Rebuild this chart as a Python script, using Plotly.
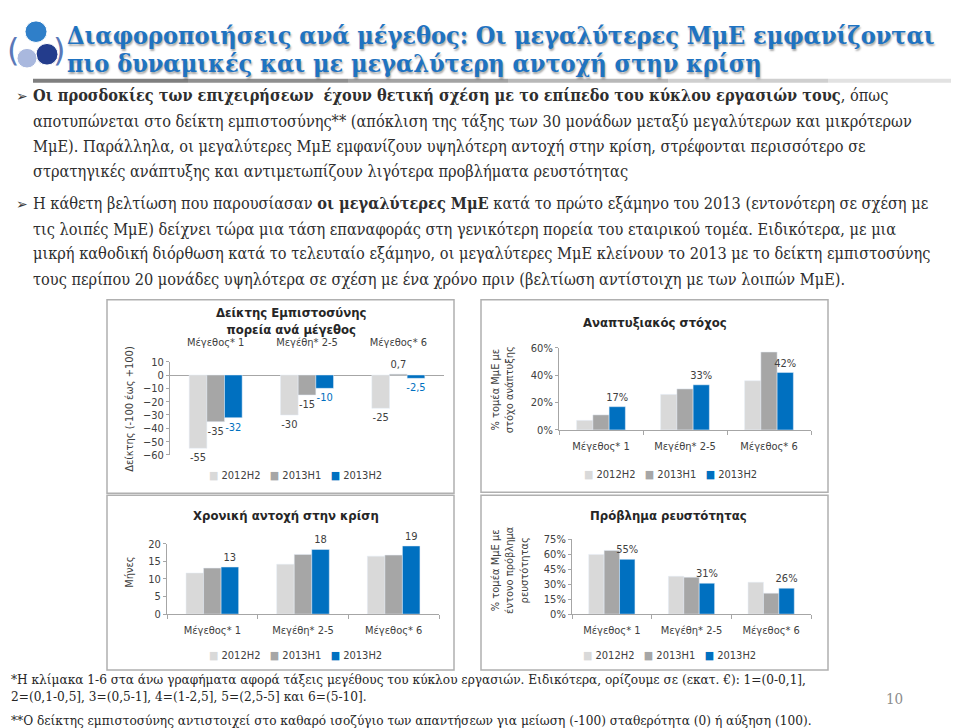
import plotly.graph_objects as go

W, H = 959, 728


def px(x):
    return x / W


def py(y):
    return 1 - y / H


# ---------------- data ----------------
categories = ["Μέγεθος* 1", "Μεγέθη* 2-5", "Μέγεθος* 6"]
series_names = ["2012H2", "2013H1", "2013H2"]
series_colors = ["#D9D9D9", "#A6A6A6", "#0070C0"]

conf_2012H2 = [-55, -30, -25]
conf_2013H1 = [-35, -15, 0.7]
conf_2013H2 = [-32, -10, -2.5]

growth_2012H2 = [7, 26, 36]
growth_2013H1 = [11, 30, 57]
growth_2013H2 = [17, 33, 42]

resil_2012H2 = [11.7, 14.2, 16.5]
resil_2013H1 = [13.1, 17.0, 16.8]
resil_2013H2 = [13.4, 18.4, 19.4]

liq_2012H2 = [60, 38, 32]
liq_2013H1 = [64, 37, 21]
liq_2013H2 = [55, 31, 26]

title_lines = [
    "Διαφοροποιήσεις ανά μέγεθος: Οι μεγαλύτερες ΜμΕ εμφανίζονται",
    "πιο δυναμικές και με μεγαλύτερη αντοχή στην κρίση",
]

body_lines = [
    "<b>Οι προσδοκίες των επιχειρήσεων  έχουν θετική σχέση με το επίπεδο του κύκλου εργασιών τους</b>, όπως",
    "αποτυπώνεται στο δείκτη εμπιστοσύνης** (απόκλιση της τάξης των 30 μονάδων μεταξύ μεγαλύτερων και μικρότερων",
    "ΜμΕ). Παράλληλα, οι μεγαλύτερες ΜμΕ εμφανίζουν υψηλότερη αντοχή στην κρίση, στρέφονται περισσότερο σε",
    "στρατηγικές ανάπτυξης και αντιμετωπίζουν λιγότερα προβλήματα ρευστότητας",
    "Η κάθετη βελτίωση που παρουσίασαν <b>οι μεγαλύτερες ΜμΕ</b> κατά το πρώτο εξάμηνο του 2013 (εντονότερη σε σχέση με",
    "τις λοιπές ΜμΕ) δείχνει τώρα μια τάση επαναφοράς στη γενικότερη πορεία του εταιρικού τομέα. Ειδικότερα, με μια",
    "μικρή καθοδική διόρθωση κατά το τελευταίο εξάμηνο, οι μεγαλύτερες ΜμΕ κλείνουν το 2013 με το δείκτη εμπιστοσύνης",
    "τους περίπου 20 μονάδες υψηλότερα σε σχέση με ένα χρόνο πριν (βελτίωση αντίστοιχη με των λοιπών ΜμΕ).",
]
body_y = [83, 109, 135, 160, 193, 219, 244, 270]
bullet_y = [83, 193]

footnotes = [
    "*Η κλίμακα 1-6 στα άνω γραφήματα αφορά τάξεις μεγέθους του κύκλου εργασιών. Ειδικότερα, ορίζουμε σε (εκατ. €): 1=(0-0,1],",
    "2=(0,1-0,5], 3=(0,5-1], 4=(1-2,5], 5=(2,5-5] και 6=(5-10].",
    "**Ο δείκτης εμπιστοσύνης αντιστοιχεί στο καθαρό ισοζύγιο των απαντήσεων για μείωση (-100) σταθερότητα (0) ή αύξηση (100).",
]
foot_y = [677, 694, 719]
page_number = "10"

chart_titles = [
    "Δείκτης Εμπιστοσύνης<br>πορεία ανά μέγεθος",
    "Αναπτυξιακός στόχος",
    "Χρονική αντοχή στην κρίση",
    "Πρόβλημα ρευστότητας",
]
y_titles = [
    "Δείκτης (-100 έως +100)",
    "% τομέα ΜμΕ με<br>στόχο ανάπτυξης",
    "Μήνες",
    "% τομέα ΜμΕ με<br>έντονο πρόβλημα<br>ρευστότητας",
]

# ---------------- styling ----------------
CF = "DejaVu Sans Condensed"
SERIF = "DejaVu Serif Condensed"
TXT = "#404040"
AX = "#A6A6A6"

fig = go.Figure()


def fmt_comma(v):
    return ("%g" % v).replace(".", ",")


# chart 1: confidence index
conf = [conf_2012H2, conf_2013H1, conf_2013H2]
for i, vals in enumerate(conf):
    fig.add_trace(go.Bar(
        x=categories, y=vals, name=series_names[i], marker_color=series_colors[i],
        text=[fmt_comma(v) for v in vals], textposition="outside", constraintext="none",
        textfont=dict(family=CF, size=11, color=TXT if i < 2 else "#0070C0"),
        cliponaxis=False, xaxis="x", yaxis="y", showlegend=False))

# chart 2: growth target
growth = [growth_2012H2, growth_2013H1, growth_2013H2]
for i, vals in enumerate(growth):
    fig.add_trace(go.Bar(
        x=categories, y=vals, name=series_names[i], marker_color=series_colors[i],
        texttemplate="%{y:.0f}%" if i == 2 else None, textposition="outside" if i == 2 else "none",
        constraintext="none", textfont=dict(family=CF, size=11, color=TXT),
        cliponaxis=False, xaxis="x2", yaxis="y2", showlegend=False))

# chart 3: resilience (months)
resil = [resil_2012H2, resil_2013H1, resil_2013H2]
for i, vals in enumerate(resil):
    fig.add_trace(go.Bar(
        x=categories, y=vals, name=series_names[i], marker_color=series_colors[i],
        texttemplate="%{y:.0f}" if i == 2 else None, textposition="outside" if i == 2 else "none",
        constraintext="none", textfont=dict(family=CF, size=11, color=TXT),
        cliponaxis=False, xaxis="x3", yaxis="y3", showlegend=False))

# chart 4: liquidity problem
liq = [liq_2012H2, liq_2013H1, liq_2013H2]
for i, vals in enumerate(liq):
    fig.add_trace(go.Bar(
        x=categories, y=vals, name=series_names[i], marker_color=series_colors[i],
        texttemplate="%{y:.0f}%" if i == 2 else None, textposition="outside" if i == 2 else "none",
        constraintext="none", textfont=dict(family=CF, size=11, color=TXT),
        cliponaxis=False, xaxis="x4", yaxis="y4", showlegend=False))

tickfont = dict(family=CF, size=11, color=TXT)


def yax(dom, anchor, rng, dtick, suffix="", zeroline=False):
    return dict(domain=dom, anchor=anchor, range=rng, dtick=dtick, ticksuffix=suffix, showgrid=False,
                showline=True, linecolor=AX, linewidth=1, ticks="outside", ticklen=3,
                tickcolor=AX, tickfont=tickfont, zeroline=zeroline, zerolinecolor=AX,
                zerolinewidth=1, fixedrange=True)


def xax(dom, anchor, side="bottom", line=True):
    return dict(domain=dom, anchor=anchor, side=side, type="category", showgrid=False,
                showline=line, linecolor=AX, linewidth=1,
                ticks="outside" if line else "", tickson="boundaries", ticklen=4, tickcolor=AX,
                tickfont=tickfont, ticklabelstandoff=6 if line else 12, fixedrange=True)


fig.update_layout(
    width=W, height=H, margin=dict(l=0, r=0, t=0, b=0),
    paper_bgcolor="white", plot_bgcolor="rgba(0,0,0,0)",
    barmode="group", bargap=0.42, bargroupgap=0,
    xaxis=xax([px(162), px(436)], "y", side="top", line=False),
    yaxis=yax([py(449), py(354)], "x", [-60, 10], 10, zeroline=True),
    xaxis2=xax([px(551), px(803)], "y2"),
    yaxis2=yax([py(423.5), py(340)], "x2", [0, 60], 20, "%"),
    xaxis3=xax([px(159), px(431)], "y3"),
    yaxis3=yax([py(611), py(539.5)], "x3", [0, 20], 5),
    xaxis4=xax([px(564), px(803)], "y4"),
    yaxis4=yax([py(611), py(535)], "x4", [0, 75], 15, "%"),
)

shapes = []
# chart frames
for (x0, y0, x1, y1) in [(99, 291, 446, 488), (473, 291, 820, 487), (99, 490, 446, 668), (473, 490, 820, 668)]:
    shapes.append(dict(type="rect", xref="paper", yref="paper", x0=px(x0), y0=py(y0), x1=px(x1), y1=py(y1),
                       line=dict(color="#B0B0B0", width=1.5), fillcolor="rgba(0,0,0,0)", layer="below"))
# header rule (gradient look)
seg_cols = ["#7F7F7F", "#8F8F8F", "#A3A3A3", "#B8B8B8", "#CFCFCF", "#E2E2E2"]
xs = [25, 180, 340, 500, 660, 820, 959]
for k, c in enumerate(seg_cols):
    shapes.append(dict(type="line", xref="paper", yref="paper", x0=px(xs[k]), x1=px(xs[k + 1]),
                       y0=py(68), y1=py(68), line=dict(color=c, width=4)))
# gear icon (approximate)
for (cx, cy, r, c) in [(28, 18, 11, "#2F7FC9"), (39, 41, 11, "#233C8C"), (19, 45, 10, "#A9B8DE")]:
    shapes.append(dict(type="circle", xref="paper", yref="paper", x0=px(cx - r), x1=px(cx + r),
                       y0=py(cy - r), y1=py(cy + r), fillcolor=c, line=dict(color="white", width=1)))
fig.update_layout(shapes=shapes)

ann = []
# header title
for k, t in enumerate(title_lines):
    ann.append(dict(text=t, x=px(57), y=py([22, 50][k]), xref="paper", yref="paper", xanchor="left",
                    yanchor="middle", showarrow=False,
                    font=dict(family="DejaVu Serif Condensed", size=25, color="#1F73C1", weight="bold",
                              shadow="1px 2px 2px rgba(0,0,0,0.35)")))
for ch, x in [("(", 5), (")", 51)]:
    ann.append(dict(text=ch, x=px(x), y=py(37), xref="paper", yref="paper", xanchor="center",
                    yanchor="middle", showarrow=False,
                    font=dict(family="DejaVu Sans", size=32, color="#5A78B8")))
# body
for t, y in zip(body_lines, body_y):
    ann.append(dict(text=t, x=px(23), y=py(y), xref="paper", yref="paper", xanchor="left", yanchor="middle",
                    showarrow=False, font=dict(family=SERIF, size=16.2, color="#2E2E2E")))
for y in bullet_y:
    ann.append(dict(text="➢", x=px(6), y=py(y), xref="paper", yref="paper", xanchor="left", yanchor="middle",
                    showarrow=False, font=dict(family="DejaVu Sans", size=14, color="#3A3A3A")))
# footnotes
for t, y in zip(footnotes, foot_y):
    ann.append(dict(text=t, x=px(1), y=py(y), xref="paper", yref="paper", xanchor="left", yanchor="middle",
                    showarrow=False, font=dict(family=SERIF, size=13.5, color="#262626")))
ann.append(dict(text=page_number, x=px(886), y=py(697), xref="paper", yref="paper", xanchor="center",
                yanchor="middle", showarrow=False, font=dict(family=SERIF, size=15, color="#8C8C8C")))

# chart titles
for t, (x, y) in zip(chart_titles, [(283, 313), (647, 314), (278, 511), (660, 511)]):
    ann.append(dict(text=t, x=px(x), y=py(y), xref="paper", yref="paper", xanchor="center", yanchor="middle",
                    showarrow=False, font=dict(family=CF, size=13, color="#262626", weight="bold")))
# y-axis titles
for t, (x, y) in zip(y_titles, [(122, 402), (494, 383), (122, 568), (502, 566)]):
    ann.append(dict(text=t, x=px(x), y=py(y), xref="paper", yref="paper", xanchor="center", yanchor="middle",
                    textangle=-90, showarrow=False, font=dict(family=CF, size=11, color=TXT)))
# legends
leg = "   ".join("<span style='color:%s'>■</span> %s" % (c, n) for c, n in zip(series_colors, series_names))
for (x, y) in [(287, 470), (662, 469), (287, 653), (661, 653)]:
    ann.append(dict(text=leg, x=px(x), y=py(y), xref="paper", yref="paper", xanchor="center", yanchor="middle",
                    showarrow=False, font=dict(family=CF, size=11, color=TXT)))

fig.update_layout(annotations=ann)
fig.write_html("out.html")
